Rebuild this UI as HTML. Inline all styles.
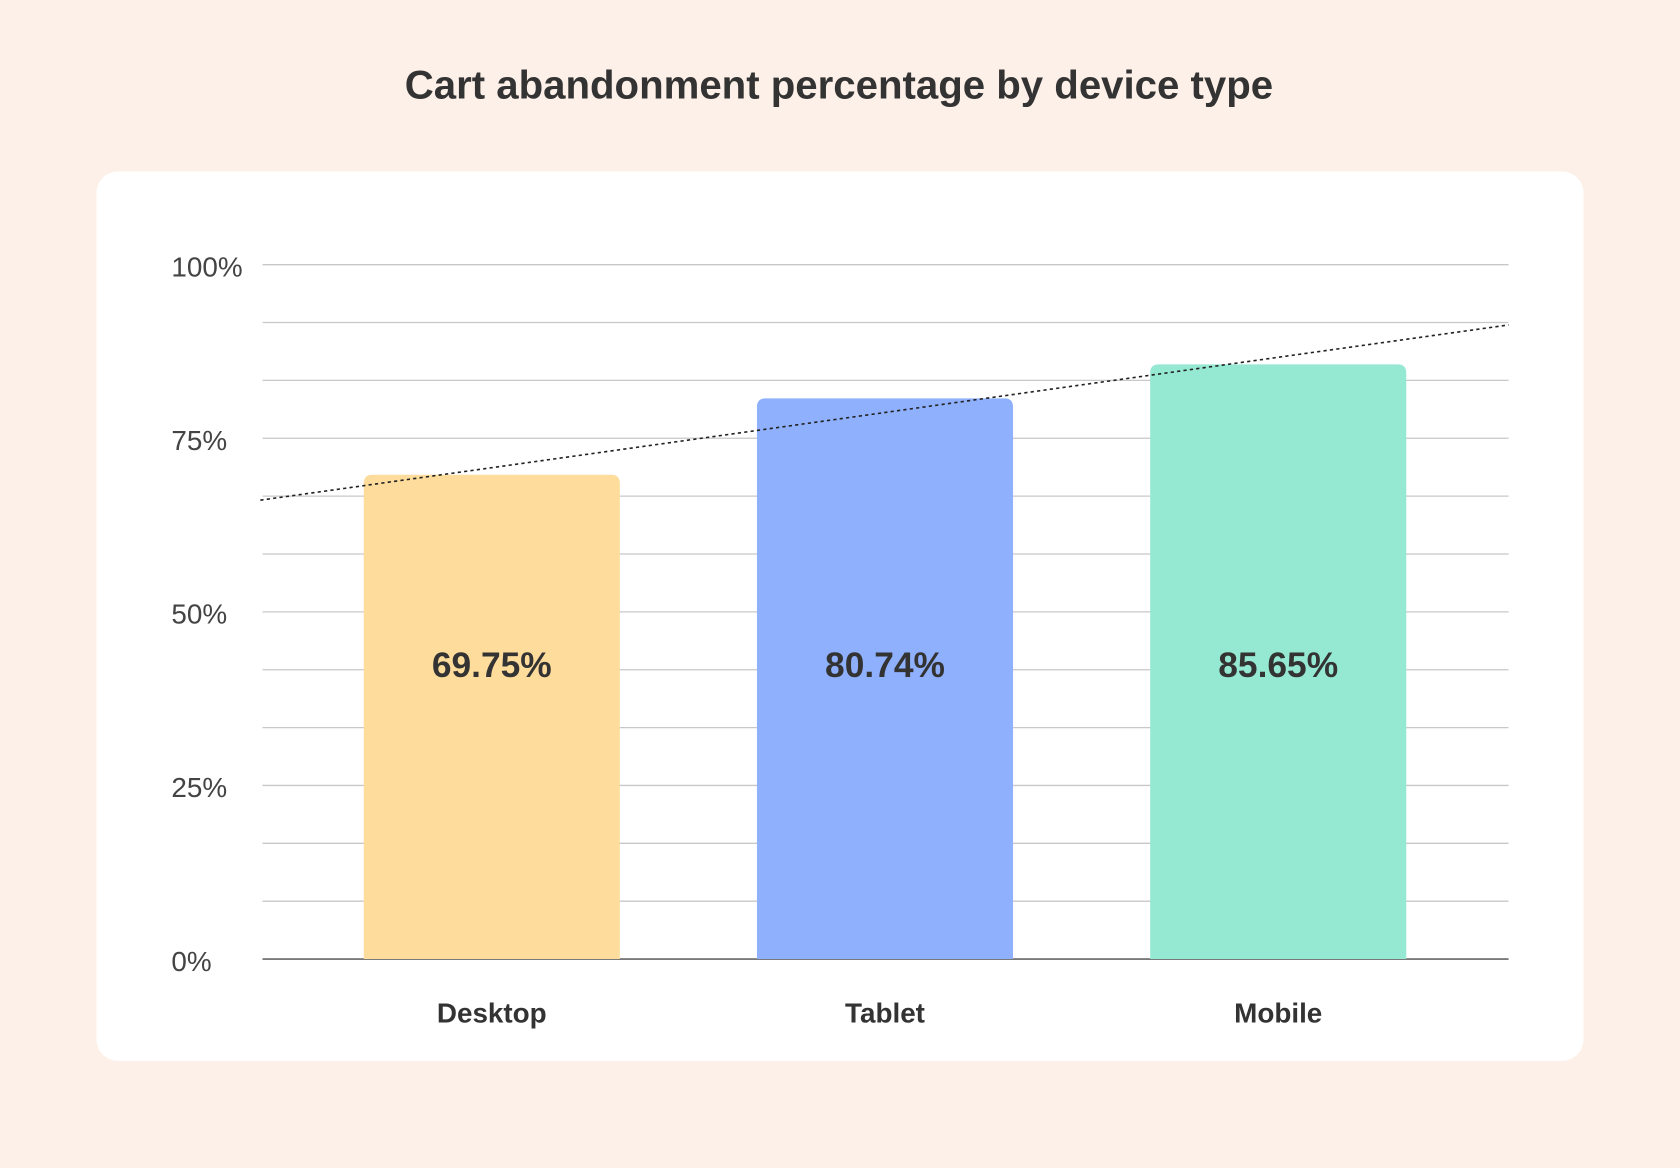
<!DOCTYPE html>
<html><head><meta charset="utf-8">
<style>
html,body{margin:0;padding:0;background:#fdf0e8;}
svg{display:block;font-family:"Liberation Sans",sans-serif;}
</style></head>
<body>
<svg id="chart" width="1680" height="1168" viewBox="0 0 1568 1090" preserveAspectRatio="none">
<rect x="0" y="0" width="1568" height="1090" fill="#fdf0e8"/>
<text x="783" y="92" text-anchor="middle" font-size="37.5" font-weight="bold" fill="#333">Cart abandonment percentage by device type</text>
<rect x="90" y="160" width="1388" height="830" rx="20" fill="#fff"/>
<g id="grid"></g>
<g id="bars"></g>
<g id="trend"></g>
</svg>
<script>
const categories = ["Desktop","Tablet","Mobile"];
const values = [69.75, 80.74, 85.65];
const valueLabels = ["69.75%","80.74%","85.65%"];
const yTicks = [0,25,50,75,100];
const yTickLabels = ["0%","25%","50%","75%","100%"];
const colors = ["#fddc9c","#8fb0fc","#95e8d1"];

const NS="http://www.w3.org/2000/svg";
const plotL=245, plotR=1408, plotTop=247, plotBot=895;
const y = v => plotBot - (v/100)*(plotBot-plotTop);
const step = 367;
const xc = i => 459 + step*i;
const bw = 239;
function mk(tag, attrs, parent){const e=document.createElementNS(NS,tag);for(const k in attrs)e.setAttribute(k,attrs[k]);parent.appendChild(e);return e;}
const grid=document.getElementById('grid'), bars=document.getElementById('bars'), trend=document.getElementById('trend');
for(let k=0; k<=12; k++){
  const v=k*100/12;
  const l=mk('line',{x1:plotL,x2:plotR,y1:y(v),y2:y(v),stroke:k===0?'#666':'#c8c8c8','stroke-width':k===0?1.5:1.2},grid);
  
  
}
yTicks.forEach((t,i)=>{
  const tx=mk('text',{x:160,y:y(t)+11,'font-size':26,fill:'#444'},grid);
  tx.textContent=yTickLabels[i];
  
  
});
categories.forEach((c,i)=>{
  const top=y(values[i]);
  const r=mk('path',{d:`M${xc(i)-bw/2},${plotBot} V${top+8} Q${xc(i)-bw/2},${top} ${xc(i)-bw/2+8},${top} H${xc(i)+bw/2-8} Q${xc(i)+bw/2},${top} ${xc(i)+bw/2},${top+8} V${plotBot} Z`,fill:colors[i]},bars);
  
  
  const vl=mk('text',{x:xc(i),y:632,'text-anchor':'middle','font-size':33,'font-weight':'bold',fill:'#333'},bars);
  vl.textContent=valueLabels[i];
  
  
  const cl=mk('text',{x:xc(i),y:954,'text-anchor':'middle','font-size':26,'font-weight':'bold',fill:'#333'},bars);
  cl.textContent=c;
  
  
});
// linear trendline
const n=values.length, mx=(n-1)/2, my=values.reduce((a,b)=>a+b,0)/n;
let num=0,den=0; values.forEach((v,i)=>{num+=(i-mx)*(v-my);den+=(i-mx)*(i-mx);});
const slope=num/den, icpt=my-slope*mx;
const idx = x => (x - xc(0))/step;
const x1=243, x2=1408;
const tl=mk('line',{x1:x1,y1:y(icpt+slope*idx(x1)),x2:x2,y2:y(icpt+slope*idx(x2)),stroke:'#222','stroke-width':1.5,'stroke-dasharray':'3,3'},trend);


</script>
</body></html>
